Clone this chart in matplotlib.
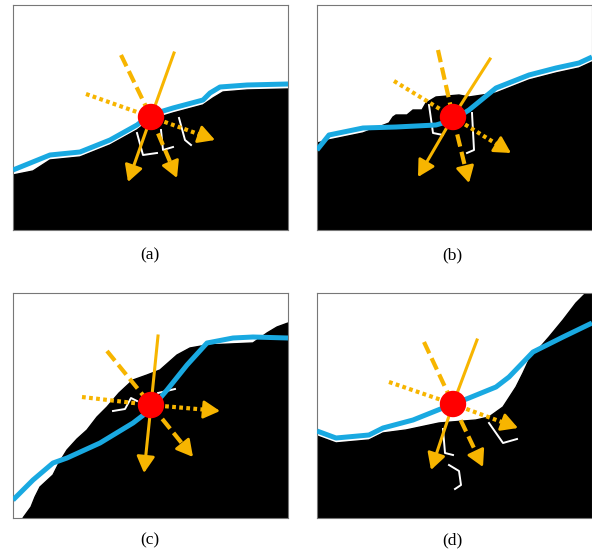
import matplotlib.pyplot as plt

# panel geometry is in local pixel units: x 0..275, y 0..225 (y grows downward)
labels = ["(a)", "(b)", "(c)", "(d)"]

blue_a_x = [0, 37, 67, 97, 124, 137, 160, 190, 197, 207, 234, 275]
blue_a_y = [165, 150, 147, 135, 120, 110, 103, 95, 88, 82, 80, 79]
black_a_x = [0, 0, 20, 37, 67, 97, 124, 137, 160, 190, 200, 210, 234, 275, 275]
black_a_y = [225, 170, 166, 155, 152, 140, 125, 115, 108, 100, 93, 87, 85, 84, 225]
center_a = (138, 112)
ins_a = [(161, 48), (108, 50), (73, 89)]
outs_a = [(115, 177), (164, 173), (202, 135)]

blue_b_x = [0, 12, 46, 79, 119, 136, 152, 179, 212, 239, 262, 275]
blue_b_y = [145, 130, 123, 122, 120, 115, 105, 83, 70, 63, 58, 52]
black_b_x = [0, 0, 12, 46, 72, 76, 79, 90, 96, 105, 109, 119, 142, 152, 179, 212, 239, 262, 275, 275]
black_b_y = [225, 138, 135, 128, 118, 112, 110, 110, 105, 105, 98, 92, 90, 92, 88, 75, 68, 63, 57, 225]
center_b = (136, 112)
ins_b = [(173, 54), (121, 45), (77, 76)]
outs_b = [(101, 172), (152, 178), (194, 148)]

blue_c_x = [0, 20, 40, 54, 87, 120, 137, 154, 174, 194, 220, 240, 275]
blue_c_y = [207, 187, 170, 165, 150, 130, 117, 97, 72, 50, 45, 44, 45]
black_c_x = [10, 18, 22, 27, 40, 46, 54, 64, 74, 84, 94, 106, 120, 134, 147, 164, 177, 194,
             240, 254, 264, 275, 275]
black_c_y = [225, 214, 204, 194, 182, 170, 157, 146, 137, 124, 114, 100, 87, 82, 77, 62, 55, 52,
             50, 40, 34, 30, 225]
center_c = (138, 112)
ins_c = [(145, 43), (94, 58), (69, 104)]
outs_c = [(131, 180), (180, 164), (207, 118)]

blue_d_x = [0, 19, 52, 66, 96, 126, 152, 179, 192, 216, 246, 275]
blue_d_y = [138, 145, 142, 135, 127, 115, 105, 94, 84, 59, 44, 30]
black_d_x = [0, 0, 19, 52, 66, 89, 122, 159, 172, 186, 199, 206, 212, 232, 246, 259, 269, 275, 275]
black_d_y = [225, 143, 150, 147, 140, 137, 130, 127, 124, 114, 94, 80, 67, 44, 27, 10, 0, 0, 225]
center_d = (136, 111)
ins_d = [(160, 47), (107, 49), (72, 89)]
outs_d = [(114, 177), (166, 174), (201, 135)]

# small white edge traces inside the black region
white_a = [[(124, 128), (130, 150), (144, 148)], [(148, 125), (150, 145), (160, 142)],
           [(166, 113), (172, 135), (178, 140)]]
white_b = [[(112, 100), (116, 128), (126, 130)], [(155, 108), (157, 145), (150, 148)]]
white_c = [[(100, 118), (112, 116), (118, 105), (124, 108)], [(145, 100), (162, 96)]]
white_d = [[(126, 136), (128, 160), (136, 162)], [(132, 172), (142, 178), (144, 192), (138, 196)],
           [(172, 130), (186, 150), (200, 146)]]

panels = [
    (blue_a_x, blue_a_y, black_a_x, black_a_y, center_a, ins_a, outs_a, white_a),
    (blue_b_x, blue_b_y, black_b_x, black_b_y, center_b, ins_b, outs_b, white_b),
    (blue_c_x, blue_c_y, black_c_x, black_c_y, center_c, ins_c, outs_c, white_c),
    (blue_d_x, blue_d_y, black_d_x, black_d_y, center_d, ins_d, outs_d, white_d),
]

W, H = 592, 557
boxes = [(13, 5), (317, 5), (13, 293), (317, 293)]
label_pos = [(150, 255), (452, 255), (150, 540), (452, 540)]

gold = "#F7B500"
blue = "#19A9E1"
styles = [("-", 2.2), ((0, (3.0, 1.3)), 3.0), ((0, (0.9, 0.8)), 3.0)]

fig = plt.figure(figsize=(W / 100, H / 100), dpi=100)

for i, (bx, by, kx, ky, c, ins, outs, whites) in enumerate(panels):
    x0, y0 = boxes[i]
    ax = fig.add_axes([x0 / W, 1 - (y0 + 225) / H, 275 / W, 225 / H])
    ax.set_xlim(0, 275)
    ax.set_ylim(225, 0)
    ax.set_xticks([])
    ax.set_yticks([])
    for s in ax.spines.values():
        s.set_color("#777777")
        s.set_linewidth(0.8)

    ax.fill(kx, ky, color="black", zorder=1)
    for w in whites:
        ax.plot([p[0] for p in w], [p[1] for p in w], color="white", lw=1.4, zorder=2)
    ax.plot(bx, by, color=blue, lw=3.6, solid_capstyle="butt", zorder=3)

    cx, cy = c
    for (px, py), (ls, lw) in zip(ins, styles):
        ax.plot([px, cx], [py, cy], color=gold, lw=lw, ls=ls, zorder=4)
    for (px, py), (ls, lw) in zip(outs, styles):
        dx, dy = px - cx, py - cy
        L = (dx ** 2 + dy ** 2) ** 0.5
        hx, hy = px - dx / L * 13, py - dy / L * 13
        ax.plot([cx, hx], [cy, hy], color=gold, lw=lw, ls=ls, zorder=4)
        ax.annotate("", xy=(px, py), xytext=(hx - dx / L * 2, hy - dy / L * 2),
                    arrowprops=dict(arrowstyle="-|>,head_length=1.0,head_width=0.55",
                                    color=gold, lw=2.0, shrinkA=0, shrinkB=0), zorder=5)
    ax.add_patch(plt.Circle((cx, cy), 12.5, color="#FF0000", zorder=6))

    lx, ly = label_pos[i]
    fig.text(lx / W, 1 - ly / H, labels[i], ha="center", va="center",
             fontsize=12.5, family="Liberation Serif")

fig.savefig("out.png", dpi=100)
